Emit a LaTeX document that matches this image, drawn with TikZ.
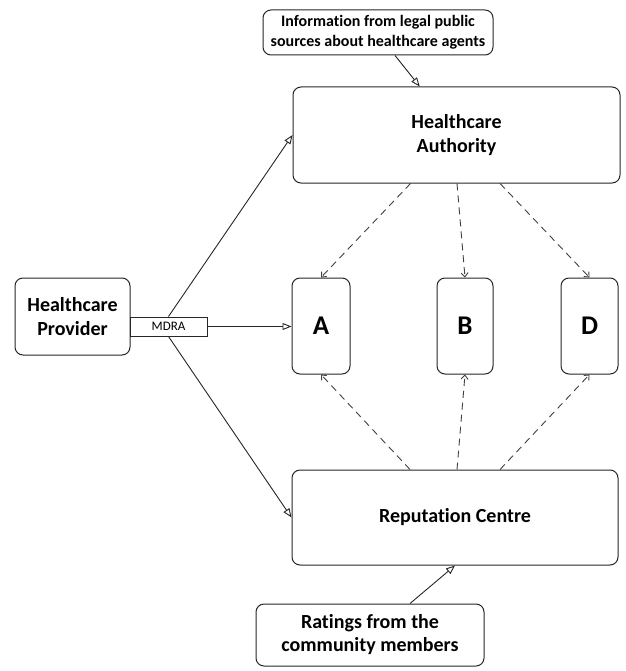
\documentclass[tikz,border=0pt]{standalone}
\usepackage{fontspec}
\setmainfont{Carlito}[Ligatures={NoCommon}]
\usetikzlibrary{arrows.meta,calc}
\begin{document}
\begin{tikzpicture}[x=1pt,y=-1pt,
  box/.style={draw=black!85,line width=1pt,rounded corners=8pt,inner sep=0pt,align=center,font=\bfseries\fontsize{20}{24.5}\selectfont},
  letterbox/.style={box,minimum width=57pt,minimum height=96pt,font=\bfseries\fontsize{27}{30}\selectfont},
  solidarrow/.style={draw=black!85,line width=0.9pt,-{Triangle[open,length=9pt,width=7pt]}},
  dasharrow/.style={draw=black!75,line width=0.9pt,dash pattern=on 7pt off 5pt,-{Straight Barb[length=4pt,width=7pt]}}]
\useasboundingbox (0,0) rectangle (625,671);
\node[box,minimum width=230pt,minimum height=45pt,font=\bfseries\fontsize{16}{20}\selectfont] (info) at (378,32.5) {Information from legal public\\sources about healthcare agents};
\node[box,minimum width=327pt,minimum height=96pt] (auth) at (456.5,135) {Healthcare\\Authority};
\node[box,minimum width=115pt,minimum height=77pt] (prov) at (72.5,316.5) {Healthcare\\Provider};
\node[draw=black!85,line width=1pt,inner sep=0pt,minimum width=77pt,minimum height=19pt,font=\fontsize{13}{15}\selectfont] (mdra) at (168.5,326.5) {MDRA};
\node[letterbox,minimum width=58pt] (A) at (321,326) {A};
\node[letterbox,minimum width=56pt] (B) at (465,326) {B};
\node[letterbox] (D) at (589.5,326) {D};
\node[box,minimum width=326pt,minimum height=95pt] (rep) at (455,517.5) {Reputation Centre};
\node[box,minimum width=228pt,minimum height=62pt,font=\bfseries\fontsize{20}{23}\selectfont] (rat) at (370,635) {Ratings from the\\community members};
% solid arrows
\draw[solidarrow] ($(info.south)+(17,0)$) -- ($(auth.north west)!0.388!(auth.north east)$);
\draw[solidarrow] (mdra.north) -- (auth.west);
\draw[solidarrow] (mdra.south) -- (rep.west);
\draw[solidarrow] (mdra.east) -- (mdra.east -| A.west);
\draw[solidarrow] ($(rat.north)+(40,0)$) -- (rep.south);
% dashed arrows
\draw[dasharrow] ($(auth.south)+(-46,0)$) -- (A.north);
\draw[dasharrow] ($(auth.south)+(0.5,0)$) -- (B.north);
\draw[dasharrow] ($(auth.south)+(43.5,0)$) -- (D.north);
\draw[dasharrow] ($(rep.north)+(-45,0)$) -- (A.south);
\draw[dasharrow] ($(rep.north)+(2,0)$) -- (B.south);
\draw[dasharrow] ($(rep.north)+(45,0)$) -- (D.south);
\end{tikzpicture}
\end{document}
